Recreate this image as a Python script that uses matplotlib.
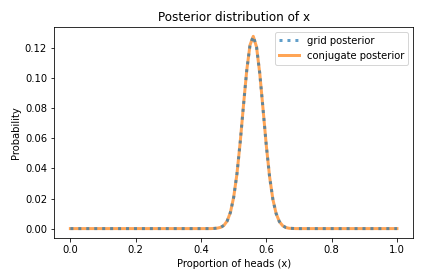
import numpy as np
import matplotlib
matplotlib.use("Agg")
import matplotlib.pyplot as plt

# grid of proportions, 0.00 .. 1.00 in steps of 0.01
xs = np.linspace(0, 1, 101)

# nonzero part of the posterior for x = 0.44 .. 0.68
peak_start = 0.44
grid_peak = [0.0001, 0.0003, 0.0008, 0.0021, 0.0050, 0.0107, 0.0208, 0.0363,
             0.0574, 0.0818, 0.1051, 0.1220, 0.1278, 0.1208, 0.1030, 0.0793,
             0.0551, 0.0345, 0.0195, 0.0100, 0.0046, 0.0019, 0.0007, 0.0002,
             0.0001]
conj_peak = [0.0001, 0.0003, 0.0008, 0.0021, 0.0050, 0.0107, 0.0208, 0.0363,
             0.0574, 0.0818, 0.1051, 0.1220, 0.1278, 0.1208, 0.1030, 0.0793,
             0.0551, 0.0345, 0.0195, 0.0100, 0.0046, 0.0019, 0.0007, 0.0002,
             0.0001]


def full_series(peak):
    ps = np.zeros(len(xs))
    i0 = int(round(peak_start * 100))
    ps[i0:i0 + len(peak)] = peak
    return ps


grid_post = full_series(grid_peak)
conj_post = full_series(conj_peak)

fig, ax = plt.subplots(figsize=(5.89, 3.89), dpi=72)

ax.plot(xs, grid_post, ":", color="C0", lw=3, alpha=0.7, zorder=3,
        label="grid posterior")
ax.plot(xs, conj_post, "-", color="C1", lw=3, alpha=0.7, zorder=2,
        label="conjugate posterior")

ax.set_title("Posterior distribution of x")
ax.set_xlabel("Proportion of heads (x)")
ax.set_ylabel("Probability")
ax.legend(loc="upper right")

fig.tight_layout()
fig.savefig("out.png", dpi=72)
